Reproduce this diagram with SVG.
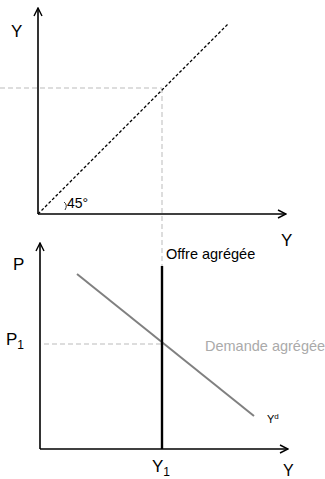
<svg xmlns="http://www.w3.org/2000/svg" width="325" height="479" viewBox="0 0 325 479">
<style>
text{font-family:"Liberation Sans",Arial,sans-serif;fill:#000}
.ax{stroke:#000;stroke-width:1.6;fill:none}
.guide{stroke:#bbb;stroke-width:1;stroke-dasharray:5,3;fill:none}
</style>
<defs>
<marker id="arr" viewBox="0 0 10 10" refX="9" refY="5" markerWidth="10" markerHeight="10" markerUnits="userSpaceOnUse" orient="auto">
<path d="M1,1 L9,5 L1,9" fill="none" stroke="#000" stroke-width="1.4"/>
</marker>
</defs>
<rect width="325" height="479" fill="#fff"/>
<g id="connectors">
<line class="guide" x1="0" y1="88" x2="162" y2="88"/>
<line class="guide" x1="162" y1="88" x2="162" y2="266"/>
<line class="guide" x1="44" y1="344" x2="162" y2="344"/>
<line x1="38" y1="214" x2="228" y2="24" stroke="#000" stroke-width="1.3" stroke-dasharray="3,2"/>
<path d="M64,202 Q68,205 65,210" fill="none" stroke="#000" stroke-width="0.8"/>
<line x1="77" y1="274" x2="254" y2="416" stroke="#808080" stroke-width="2"/>
<line x1="162" y1="266" x2="162" y2="449" stroke="#000" stroke-width="2.4"/>
</g>
<g id="top-axes">
<line class="ax" x1="38" y1="214" x2="38" y2="8" marker-end="url(#arr)"/>
<line class="ax" x1="38" y1="214" x2="286" y2="214" marker-end="url(#arr)"/>
<text x="11" y="37" font-size="17">Y</text>
<text x="281" y="246" font-size="17">Y</text>
<text x="67" y="208" font-size="14">45°</text>
</g>
<g id="bottom-axes">
<line class="ax" x1="40" y1="449" x2="40" y2="243" marker-end="url(#arr)"/>
<line class="ax" x1="40" y1="449" x2="288" y2="449" marker-end="url(#arr)"/>
<text x="13" y="270" font-size="17">P</text>
<text x="6" y="345" font-size="17">P<tspan font-size="12" dy="4">1</tspan></text>
<text x="152" y="472" font-size="17">Y<tspan font-size="12" dy="4">1</tspan></text>
<text x="283" y="476" font-size="16">Y</text>
</g>
<g id="offre">
<text x="166" y="259" font-size="14.5">Offre agrégée</text>
</g>
<g id="demande">
<text x="205" y="351" font-size="14.5" style="fill:#aaa">Demande agrégée</text>
<text x="267" y="423" font-size="11">Y<tspan font-size="8" dy="-4">d</tspan></text>
</g>
</svg>
